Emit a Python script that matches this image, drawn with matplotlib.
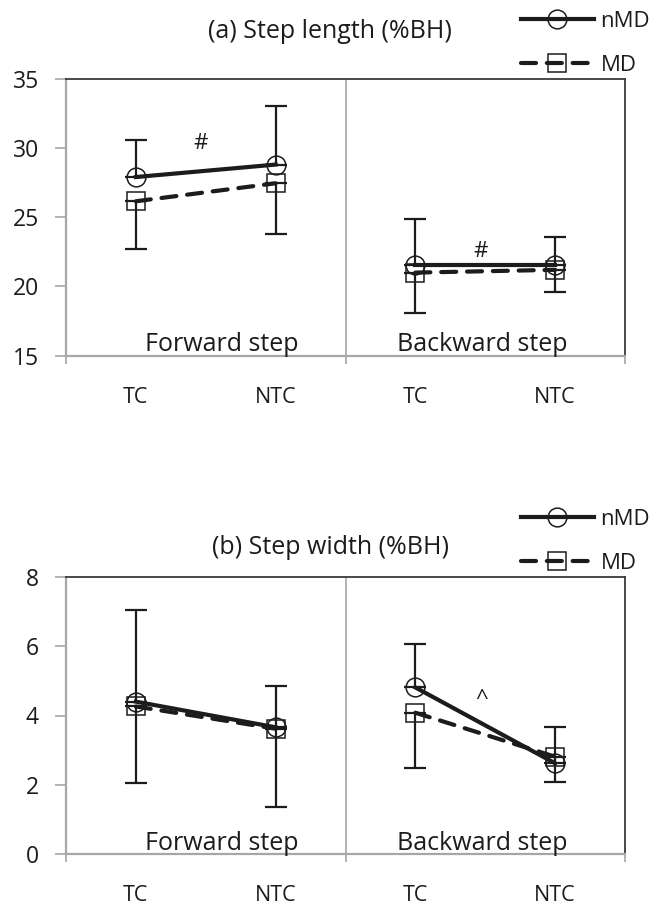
import matplotlib
matplotlib.use("Agg")
import matplotlib.pyplot as plt
from matplotlib.lines import Line2D

plt.rcParams['font.family'] = ['Open Sans', 'DejaVu Sans']

categories = ["TC", "NTC", "TC", "NTC"]
steps = ["Forward step", "Backward step"]

# (a) Step length (%BH)
len_nmd = [27.9, 28.8, 21.55, 21.55]
len_md = [26.15, 27.45, 21.0, 21.2]
len_nmd_err_up = [2.65, 4.25, 3.35, 2.05]
len_md_err_down = [3.45, 3.65, 2.95, 1.6]

# (b) Step width (%BH)
wid_nmd = [4.40, 3.66, 4.81, 2.62]
wid_md = [4.26, 3.62, 4.08, 2.81]
wid_nmd_err_up = [2.65, 1.20, 1.26, 1.06]
wid_md_err_down = [2.22, 2.25, 1.59, 0.74]

INK = "#1c1c1c"
GRAY = "#a6a6a6"
DARK = "#3a3a3a"

fig = plt.figure(figsize=(6.68, 9.07), dpi=100)
ax1 = fig.add_axes([66/668, 1-355.7/907, 559/668, 277/907])
ax2 = fig.add_axes([66/668, 1-854/907, 559/668, 277/907])

def draw(ax, nmd, md, up, down, ylim, yticks, title, ann, title_y, leg_y):
    x = list(range(len(categories)))
    for seg in (slice(0, 2), slice(2, 4)):
        xs = x[seg]
        ax.errorbar(xs, nmd[seg], yerr=[[0]*2, up[seg]], fmt='none',
                    ecolor=INK, elinewidth=1.6, capsize=8, capthick=1.6, zorder=2)
        ax.errorbar(xs, md[seg], yerr=[down[seg], [0]*2], fmt='none',
                    ecolor=INK, elinewidth=1.6, capsize=8, capthick=1.6, zorder=2)
        ax.plot(xs, md[seg], color=INK, lw=3.0, dashes=(3.6, 2.6),
                dash_capstyle='round', marker='s', ms=13.5, mfc='none',
                mec=INK, mew=1.1, zorder=3)
        ax.plot(xs, nmd[seg], color=INK, lw=3.0, marker='o', ms=13.5,
                mfc='none', mec=INK, mew=1.1, zorder=4)
    ax.axvline(1.5, color=GRAY, lw=1.2, zorder=1)
    ax.set_xlim(-0.5, 3.5)
    ax.set_ylim(*ylim)
    ax.set_yticks(yticks)
    ax.tick_params(axis='y', direction='out', length=8, width=1.2, color=GRAY,
                   labelsize=16.5, pad=11.5, labelcolor=INK)
    ax.set_xticks([-0.5, 1.5, 3.5])
    ax.set_xticklabels([])
    ax.tick_params(axis='x', which='major', direction='out', length=6,
                   width=1.2, color=GRAY)
    ax.set_xticks(x, minor=True)
    ax.set_xticklabels(categories, minor=True)
    ax.tick_params(axis='x', which='minor', length=0, labelsize=15.5, pad=22.5,
                   labelcolor=INK)
    for s in ('left', 'bottom'):
        ax.spines[s].set_color(GRAY)
        ax.spines[s].set_linewidth(1.6)
    for s in ('top', 'right'):
        ax.spines[s].set_color(DARK)
        ax.spines[s].set_linewidth(1.3)
    yoff = (ylim[1]-ylim[0]) * 4.5/277
    ax.text(0.614, ylim[0]+yoff, steps[0], ha='center', va='baseline',
            fontsize=18, color=INK)
    ax.text(2.48, ylim[0]+yoff, steps[1], ha='center', va='baseline',
            fontsize=18, color=INK)
    for (tx, ty, s) in ann:
        ax.text(tx, ty, s, ha='center', va='center', fontsize=16, color=INK)
    fig.text(330/668, 1-title_y/907, title, ha='center', va='center',
             fontsize=18, color=INK)
    handles = [
        Line2D([], [], color=INK, lw=3.0, marker='o', ms=13.5, mfc='none',
               mec=INK, mew=1.1),
        Line2D([], [], color=INK, lw=3.0, dashes=(3.6, 2.6),
               dash_capstyle='round', marker='s', ms=13.5, mfc='none',
               mec=INK, mew=1.1),
    ]
    ax.legend(handles, ["nMD", "MD"], loc='lower right',
              bbox_to_anchor=(1.065, leg_y), frameon=False, fontsize=16,
              labelspacing=1.05, handlelength=3.3, handletextpad=0.3,
              borderpad=0.0, labelcolor=INK)

draw(ax1, len_nmd, len_md, len_nmd_err_up, len_md_err_down, (15, 35),
     [15, 20, 25, 30, 35], "(a) Step length (%BH)",
     [(0.46, 30.3, "#"), (2.47, 22.5, "#")], 32, 0.97)
draw(ax2, wid_nmd, wid_md, wid_nmd_err_up, wid_md_err_down, (0, 8),
     [0, 2, 4, 6, 8], "(b) Step width (%BH)",
     [(2.47, 4.45, "^")], 548, 0.97)

fig.savefig("out.png", dpi=100)
